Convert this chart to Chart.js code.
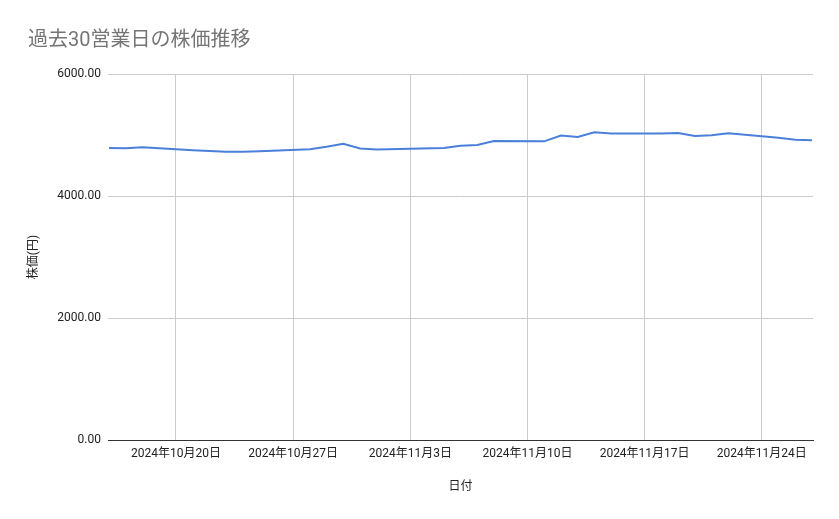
<!DOCTYPE html>
<html lang="ja">
<head>
<meta charset="utf-8">
<title>過去30営業日の株価推移</title>
<script src="https://cdn.jsdelivr.net/npm/chart.js@4.4.1/dist/chart.umd.min.js"></script>
<style>
  html, body { margin: 0; padding: 0; background: #fff; }
  #wrap { width: 839px; height: 519px; position: relative; }
</style>
</head>
<body>
<div id="wrap"><canvas id="priceChart"></canvas></div>
<script>
// ── Data ─────────────────────────────────────────────────────
const dates = [
    '2024-10-16', '2024-10-17', '2024-10-18',
    '2024-10-21', '2024-10-22', '2024-10-23', '2024-10-24', '2024-10-25',
    '2024-10-28', '2024-10-29', '2024-10-30', '2024-10-31', '2024-11-01',
    '2024-11-05', '2024-11-06', '2024-11-07', '2024-11-08',
    '2024-11-11', '2024-11-12', '2024-11-13', '2024-11-14', '2024-11-15',
    '2024-11-18', '2024-11-19', '2024-11-20', '2024-11-21', '2024-11-22',
    '2024-11-25', '2024-11-26', '2024-11-27'
];
const prices = [
    4787, 4782, 4798,
    4749, 4738, 4726, 4727, 4733,
    4766, 4808, 4857, 4778, 4764,
    4787, 4824, 4836, 4902,
    4896, 4992, 4967, 5043, 5025,
    5026, 5032, 4982, 4995, 5028,
    4955, 4922, 4912
];
const xTickDates = ['2024-10-20', '2024-10-27', '2024-11-03', '2024-11-10', '2024-11-17', '2024-11-24'];
const yTicks     = [0, 2000, 4000, 6000];

// ── Helpers: dates → day offsets (no time adapter offline) ──
const DAY = 86400000;
const parseDay = s => { const [y, m, d] = s.split('-').map(Number); return Date.UTC(y, m - 1, d); };
const origin   = parseDay(dates[0]);
const toX      = s => (parseDay(s) - origin) / DAY;
const fmtDate  = x => {
    const d = new Date(origin + x * DAY);
    return `${d.getUTCFullYear()}年${d.getUTCMonth() + 1}月${d.getUTCDate()}日`;
};

const points = dates.map((d, i) => ({ x: toX(d), y: prices[i] }));
const lastX  = toX(dates[dates.length - 1]);

const fontFamily = "Roboto, 'Noto Sans CJK JP', 'Noto Sans', sans-serif";

new Chart(document.getElementById('priceChart'), {
    type: 'line',
    data: {
        datasets: [{
            label: '株価',
            data: points,
            borderColor: '#4a80da',
            borderWidth: 2,
            pointRadius: 0,
            tension: 0,
            fill: false
        }]
    },
    options: {
        responsive: true,
        maintainAspectRatio: false,
        animation: false,
        layout: { padding: { left: 28, right: 26, top: 0, bottom: 0 } },
        plugins: {
            legend:  { display: false },
            tooltip: { enabled: false },
            title: {
                display: true,
                text: '過去30営業日の株価推移',
                align: 'start',
                color: '#757575',
                font: { family: fontFamily, size: 20, weight: 'normal' },
                padding: { top: 29, bottom: 21 }
            }
        },
        scales: {
            x: {
                type: 'linear',
                min: -0.06,
                max: lastX + 0.06,
                afterBuildTicks: s => { s.ticks = xTickDates.map(d => ({ value: toX(d) })); },
                afterFit: s => { s.height = 79; },
                ticks: {
                    callback: v => fmtDate(v),
                    color: '#222',
                    maxRotation: 0,
                    autoSkip: false,
                    padding: 7,
                    font: { family: fontFamily, size: 12 }
                },
                grid:   { color: '#cccccc', drawTicks: false },
                border: { display: true, color: '#333333', width: 1 },
                title: {
                    display: true,
                    text: '日付',
                    color: '#222',
                    font: { family: fontFamily, size: 12 },
                    padding: { top: 0, bottom: 25 }
                }
            },
            y: {
                min: 0,
                max: 6000,
                afterBuildTicks: s => { s.ticks = yTicks.map(v => ({ value: v })); },
                afterFit: s => { s.width = 80; },
                ticks: {
                    callback: v => v.toFixed(2),
                    color: '#222',
                    padding: 7,
                    font: { family: fontFamily, size: 12 }
                },
                grid:   { color: '#cccccc', drawTicks: false },
                border: { display: false },
                title: {
                    display: true,
                    text: '株価(円)',
                    color: '#222',
                    font: { family: fontFamily, size: 12, lineHeight: 1 },
                    padding: { top: 0, bottom: 0 }
                }
            }
        }
    }
});
</script>
</body>
</html>
